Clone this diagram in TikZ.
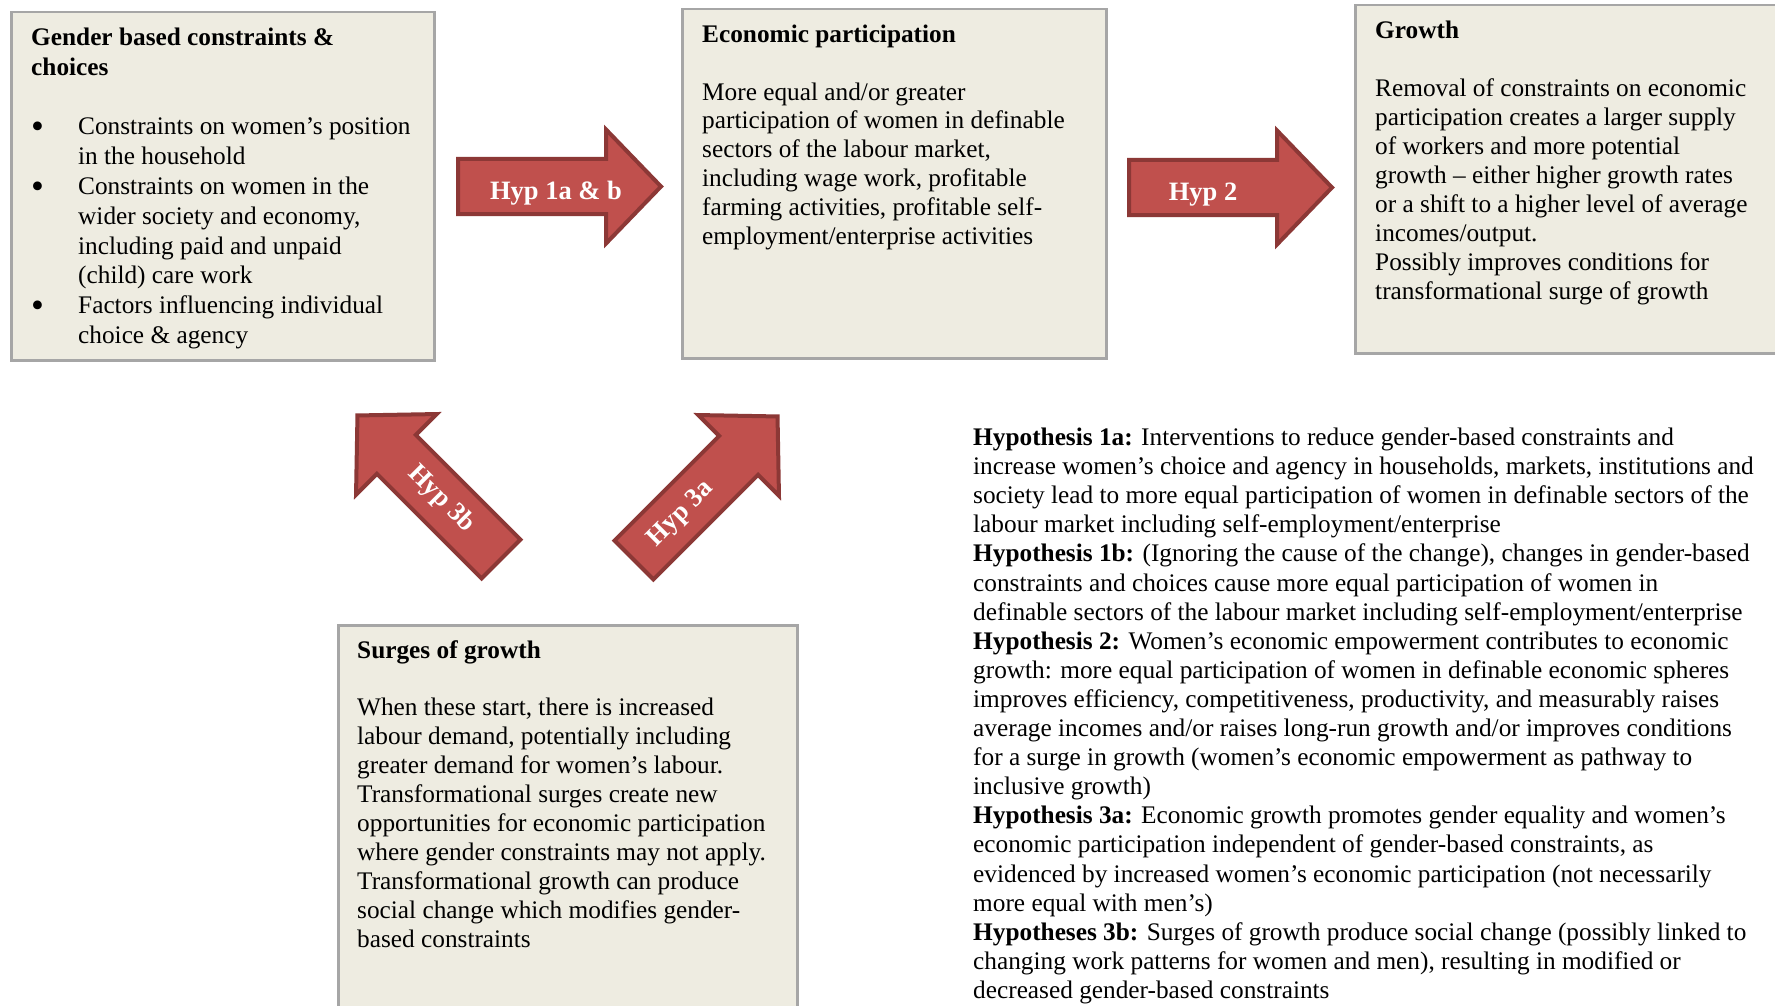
\documentclass[tikz,border=0pt]{standalone}
\usepackage{fontspec}
\setmainfont{Liberation Serif}
\usepackage{graphicx}

\definecolor{boxfill}{RGB}{238,236,225}
\definecolor{boxline}{RGB}{166,166,166}
\definecolor{arrowfill}{RGB}{192,80,77}
\definecolor{arrowline}{RGB}{140,56,54}

\newcommand{\blt}{\makebox[47pt][l]{\raisebox{-4pt}{\scalebox{1.45}{•}}}}
\newcommand{\ind}{\hspace*{47pt}}

\begin{document}
\begin{tikzpicture}[x=1pt,y=-1pt]
\tikzset{
  panel/.style={draw=boxline, fill=boxfill, line width=2.5pt, inner sep=0pt, anchor=north west},
  textblock/.style={anchor=base west, inner sep=0pt, align=left},
  arrowbody/.style={fill=arrowfill, draw=arrowline, line width=4pt, line join=miter},
  arrowtext/.style={text=white, inner sep=0pt, font=\fontsize{26.5}{30}\selectfont\bfseries},
  hyparrow/.pic={
    \path[arrowbody] (0,-27.5) -- (148,-27.5) -- (148,-57) -- (203,0)
      -- (148,57) -- (148,27.5) -- (0,27.5) -- cycle;
  }
}
\useasboundingbox (0,0) rectangle (1775,1006);
\clip (0,0) rectangle (1775,1006);
\fill[white] (0,0) rectangle (1775,1006);

% the four panels
\node[panel, minimum width=423pt, minimum height=348pt] (gbc) at (10,11) {};
\node[panel, minimum width=424pt, minimum height=349pt] (econ) at (681,8) {};
\node[panel, minimum width=446pt, minimum height=348pt] (growth) at (1354,4) {};
\node[panel, minimum width=459pt, minimum height=400pt] (surge) at (337,624) {};

% panel texts
\node[textblock, font=\fontsize{25.3}{29.8}\selectfont] (gbctext) at (31,45.5) {%
\begin{tabular}[t]{@{}l@{}}
\textbf{Gender based constraints \&}\\
\textbf{choices}\\
\\
\blt Constraints on women’s position\\
\ind in the household\\
\blt Constraints on women in the\\
\ind wider society and economy,\\
\ind including paid and unpaid\\
\ind (child) care work\\
\blt Factors influencing individual\\
\ind choice \& agency
\end{tabular}};

\node[textblock, font=\fontsize{25.3}{28.8}\selectfont] (econtext) at (702,42.5) {%
\begin{tabular}[t]{@{}l@{}}
\textbf{Economic participation}\\
\\
More equal and/or greater\\
participation of women in definable\\
sectors of the labour market,\\
including wage work, profitable\\
farming activities, profitable self-\\
employment/enterprise activities
\end{tabular}};

\node[textblock, font=\fontsize{25.3}{29}\selectfont] (growthtext) at (1375,38.5) {%
\begin{tabular}[t]{@{}l@{}}
\textbf{Growth}\\
\\
Removal of constraints on economic\\
participation creates a larger supply\\
of workers and more potential\\
growth – either higher growth rates\\
or a shift to a higher level of average\\
incomes/output.\\
Possibly improves conditions for\\
transformational surge of growth
\end{tabular}};

\node[textblock, font=\fontsize{25.3}{28.9}\selectfont] (surgetext) at (357,658) {%
\begin{tabular}[t]{@{}l@{}}
\textbf{Surges of growth}\\
\\
When these start, there is increased\\
labour demand, potentially including\\
greater demand for women’s labour.\\
Transformational surges create new\\
opportunities for economic participation\\
where gender constraints may not apply.\\
Transformational growth can produce\\
social change which modifies gender-\\
based constraints
\end{tabular}};

% hypotheses
\node[textblock, font=\fontsize{25.3}{29.1}\selectfont] (hyps) at (973,445.5) {%
\begin{tabular}[t]{@{}l@{}}
\textbf{Hypothesis 1a:} Interventions to reduce gender-based constraints and\\
increase women’s choice and agency in households, markets, institutions and\\
society lead to more equal participation of women in definable sectors of the\\
labour market including self-employment/enterprise\\
\textbf{Hypothesis 1b:} (Ignoring the cause of the change), changes in gender-based\\
constraints and choices cause more equal participation of women in\\
definable sectors of the labour market including self-employment/enterprise\\
\textbf{Hypothesis 2:} Women’s economic empowerment contributes to economic\\
growth: more equal participation of women in definable economic spheres\\
improves efficiency, competitiveness, productivity, and measurably raises\\
average incomes and/or raises long-run growth and/or improves conditions\\
for a surge in growth (women’s economic empowerment as pathway to\\
inclusive growth)\\
\textbf{Hypothesis 3a:} Economic growth promotes gender equality and women’s\\
economic participation independent of gender-based constraints, as\\
evidenced by increased women’s economic participation (not necessarily\\
more equal with men’s)\\
\textbf{Hypotheses 3b:} Surges of growth produce social change (possibly linked to\\
changing work patterns for women and men), resulting in modified or\\
decreased gender-based constraints
\end{tabular}};

% block arrows between the panels
\pic (h1) at (458,186.5) {hyparrow};
\pic (h2) at (1129,187.5) {hyparrow};
\pic[rotate=135] (h3b) at (501,559) {hyparrow};
\pic[rotate=45] (h3a) at (634,560) {hyparrow};

\node[arrowtext, anchor=base] (h1label) at (556,199.5) {Hyp 1a \& b};
\node[arrowtext, anchor=base] (h2label) at (1203,200.5) {Hyp 2};
\node[arrowtext, rotate=-45] (h3blabel) at (441,499) {Hyp 3b};
\node[arrowtext, rotate=45] (h3alabel) at (681,514) {Hyp 3a};
\end{tikzpicture}
\end{document}
